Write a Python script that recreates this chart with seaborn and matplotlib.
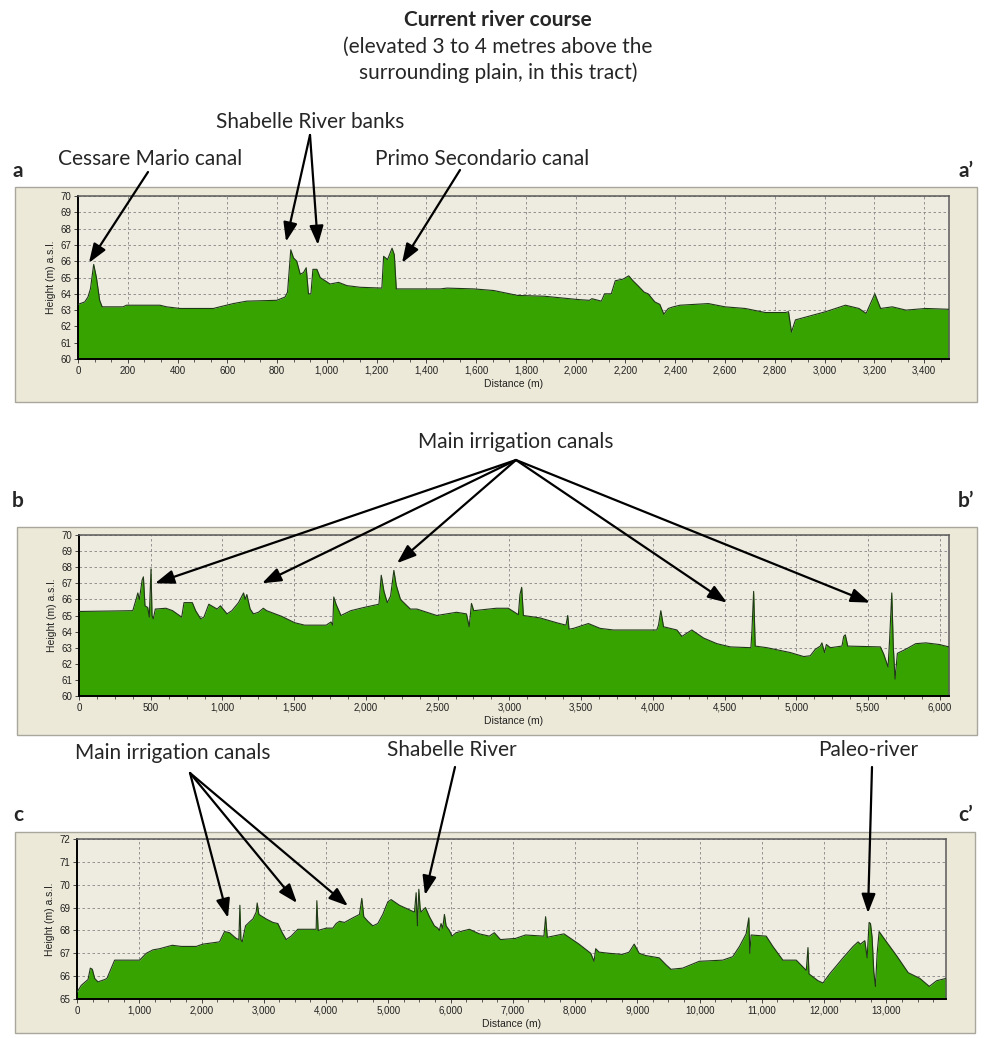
import numpy as np
import pandas as pd
import seaborn as sns
import matplotlib.pyplot as plt
from matplotlib.patches import Rectangle
from matplotlib.ticker import MultipleLocator, AutoMinorLocator, FuncFormatter

# ---- elevation profiles (distance m, height m a.s.l.) ----
dist_a = [0, 27, 40, 50, 63, 74, 87, 97, 181, 195, 329, 356, 410, 544, 570, 624, 678, 799, 832, 842,
          855, 866, 879, 893, 906, 917, 926, 936, 944, 960, 973, 993, 1013, 1047, 1081, 1134, 1221, 1228,
          1244, 1262, 1271, 1279, 1456, 1483, 1591, 1671, 1766, 1874, 2008, 2055, 2065, 2103, 2116, 2143,
          2159, 2190, 2213, 2230, 2250, 2275, 2291, 2318, 2338, 2354, 2372, 2392, 2419, 2533, 2600, 2681,
          2762, 2842, 2855, 2867, 2883, 3004, 3084, 3138, 3167, 3202, 3225, 3272, 3327, 3407, 3500]
elev_a = [63.35, 63.5, 63.8, 64.3, 65.8, 65.0, 63.6, 63.2, 63.2, 63.3, 63.3, 63.2, 63.1, 63.1, 63.2, 63.4,
          63.55, 63.6, 63.8, 64.1, 66.7, 66.2, 66.0, 65.2, 65.3, 65.6, 64.0, 64.0, 65.5, 65.5, 65.0, 64.8,
          64.6, 64.7, 64.5, 64.4, 64.35, 66.3, 66.1, 66.8, 66.4, 64.3, 64.3, 64.35, 64.3, 64.2, 63.9, 63.85,
          63.65, 63.6, 63.7, 63.55, 64.0, 64.0, 64.8, 64.9, 65.1, 64.8, 64.5, 64.1, 64.0, 63.5, 63.35, 62.75,
          63.1, 63.2, 63.3, 63.4, 63.2, 63.1, 62.85, 62.85, 62.9, 61.65, 62.4, 62.9, 63.3, 63.1, 62.8, 64.0,
          63.1, 63.2, 63.0, 63.1, 63.05]

dist_b = [0, 375, 398, 410, 421, 440, 449, 460, 479, 490, 502, 509, 518, 532, 606, 652, 716, 732, 790, 813,
          848, 871, 905, 963, 986, 1032, 1066, 1112, 1147, 1158, 1170, 1193, 1216, 1251, 1285, 1308, 1412,
          1504, 1573, 1723, 1757, 1769, 1776, 1792, 1826, 1895, 1987, 2091, 2107, 2126, 2149, 2172, 2195,
          2211, 2241, 2310, 2356, 2494, 2632, 2701, 2720, 2736, 2752, 2909, 2993, 3063, 3074, 3086, 3098,
          3214, 3330, 3395, 3407, 3416, 3447, 3551, 3633, 3726, 4028, 4040, 4056, 4075, 4168, 4203, 4272,
          4354, 4447, 4540, 4684, 4691, 4703, 4714, 4796, 4958, 5052, 5098, 5133, 5168, 5179, 5191, 5198,
          5210, 5238, 5319, 5331, 5342, 5359, 5587, 5610, 5640, 5651, 5666, 5677, 5689, 5705, 5763, 5833,
          5903, 5996, 6065]
elev_b = [65.25, 65.3, 66.0, 66.4, 66.0, 67.2, 67.4, 65.6, 65.5, 64.9, 67.9, 65.0, 64.8, 65.4, 65.45, 65.3,
          64.9, 65.8, 65.8, 65.3, 64.8, 64.9, 65.7, 65.4, 65.6, 65.1, 65.3, 65.8, 66.4, 66.0, 66.3, 65.4,
          65.1, 65.2, 65.45, 65.3, 64.95, 64.55, 64.4, 64.4, 64.6, 64.4, 66.15, 65.7, 65.0, 65.3, 65.5, 65.7,
          67.5, 66.5, 65.8, 66.2, 67.8, 66.9, 66.0, 65.4, 65.4, 65.0, 65.2, 65.1, 64.3, 65.75, 65.3, 65.45,
          65.45, 65.05, 66.3, 66.75, 65.0, 64.85, 64.55, 64.4, 65.0, 64.15, 64.2, 64.5, 64.2, 64.1, 64.1,
          64.4, 65.3, 64.3, 64.1, 63.7, 64.1, 63.6, 63.25, 63.05, 63.0, 64.0, 66.5, 63.1, 63.0, 62.7, 62.45,
          62.5, 62.9, 63.1, 63.3, 62.9, 62.7, 63.2, 63.0, 63.1, 63.7, 63.8, 63.1, 63.05, 62.6, 61.8, 63.5,
          66.4, 63.0, 61.05, 62.65, 62.9, 63.25, 63.3, 63.2, 63.05]

dist_c = [0, 70, 177, 214, 246, 284, 337, 444, 481, 605, 1006, 1113, 1220, 1327, 1530, 1675, 1915, 2022,
          2290, 2370, 2450, 2557, 2600, 2616, 2632, 2654, 2707, 2745, 2782, 2825, 2878, 2894, 2921, 3039,
          3146, 3226, 3296, 3360, 3440, 3547, 3841, 3852, 3873, 4002, 4109, 4162, 4216, 4296, 4430, 4537,
          4574, 4606, 4671, 4751, 4831, 4911, 4992, 5045, 5179, 5420, 5436, 5447, 5468, 5490, 5510, 5526,
          5596, 5660, 5740, 5794, 5820, 5847, 5874, 5901, 5928, 5981, 6024, 6088, 6302, 6462, 6623, 6703,
          6801, 7043, 7204, 7499, 7526, 7553, 7821, 7955, 8063, 8251, 8304, 8331, 8385, 8546, 8761, 8868,
          8949, 9029, 9136, 9351, 9459, 9539, 9727, 9995, 10371, 10532, 10640, 10747, 10790, 10806, 10827,
          11069, 11176, 11337, 11552, 11713, 11740, 11756, 11901, 11981, 12089, 12304, 12465, 12545, 12583,
          12653, 12690, 12722, 12744, 12770, 12797, 12824, 12851, 12883, 13001, 13162, 13350, 13538, 13689,
          13807, 13957]
elev_c = [65.3, 65.6, 65.85, 66.35, 66.3, 65.9, 65.75, 65.85, 65.9, 66.7, 66.7, 67.0, 67.15, 67.2, 67.35,
          67.3, 67.3, 67.4, 67.5, 67.95, 67.9, 67.65, 67.6, 69.1, 67.6, 67.5, 68.2, 68.3, 68.4, 68.5, 68.8,
          69.2, 68.7, 68.5, 68.35, 68.3, 67.9, 67.6, 67.75, 68.05, 68.05, 69.3, 68.0, 68.1, 68.1, 68.3, 68.4,
          68.35, 68.55, 68.7, 69.4, 68.6, 68.4, 68.2, 68.3, 68.7, 69.25, 69.35, 69.1, 68.8, 69.3, 69.65, 68.2,
          69.8, 69.0, 68.8, 69.0, 68.6, 68.2, 68.1, 68.0, 68.3, 68.1, 68.7, 68.2, 68.0, 67.75, 67.9, 68.05,
          67.85, 67.75, 67.9, 67.6, 67.65, 67.8, 67.75, 68.6, 67.7, 67.85, 67.6, 67.4, 67.0, 66.65, 67.2,
          67.05, 67.0, 66.95, 67.05, 67.4, 67.0, 66.9, 66.8, 66.5, 66.3, 66.35, 66.65, 66.7, 66.85, 67.3,
          67.85, 68.55, 67.0, 67.8, 67.75, 67.3, 66.7, 66.7, 66.25, 67.25, 66.1, 65.8, 65.7, 66.1, 66.8, 67.3,
          67.5, 67.4, 67.55, 66.8, 68.35, 68.3, 67.7, 66.2, 65.55, 67.0, 67.95, 67.5, 66.9, 66.15, 65.9,
          65.55, 65.8, 65.9]

# axis ranges / ticks
xmax = [3500, 6065, 13957]
ylims = [(60, 70), (60, 70), (65, 72)]
xstep = [200, 500, 1000]
xminor = [3, 4, 4]

# ---- layout (pixels on a 996 x 1038 canvas) ----
W, H = 996, 1038
plot_px = [(78, 196, 949, 359), (79, 535, 949, 696), (77, 839, 946, 999)]   # l, t, r, b
box_px = [(15, 187, 977, 402), (17, 527, 977, 735), (15, 832, 975, 1033)]

sns.set_style("ticks")
plt.rcParams['font.family'] = ['Liberation Sans', 'DejaVu Sans']
LABEL_FONT = ['Lato', 'DejaVu Sans']

GREEN = '#36a300'
EDGE = '#203818'
BEIGE = '#ece9d8'
PLOTBG = '#eeebe0'

fig = plt.figure(figsize=(W / 100, H / 100), dpi=100)


def fx(x):
    return x / W


def fy(y):
    return (H - y) / H


axes = []
profiles = [(dist_a, elev_a), (dist_b, elev_b), (dist_c, elev_c)]
for i, (d, e) in enumerate(profiles):
    x0, y0, x1, y1 = box_px[i]
    fig.patches.append(Rectangle((fx(x0), fy(y1)), (x1 - x0) / W, (y1 - y0) / H,
                                 transform=fig.transFigure, fc=BEIGE, ec='#a9a79c', lw=1.0, zorder=-5))
    l, t, r, b = plot_px[i]
    ax = fig.add_axes([fx(l), fy(b), (r - l) / W, (b - t) / H])
    ax.set_zorder(2)
    ax.set_facecolor(PLOTBG)
    df = pd.DataFrame({'Distance (m)': d, 'Height': e})
    ax.fill_between(df['Distance (m)'], df['Height'], ylims[i][0], color=GREEN, lw=0, zorder=2)
    sns.lineplot(data=df, x='Distance (m)', y='Height', ax=ax, color=EDGE, lw=0.8,
                 estimator=None, zorder=3)
    ax.set_xlim(0, xmax[i])
    ax.set_ylim(*ylims[i])
    ax.xaxis.set_major_locator(MultipleLocator(xstep[i]))
    ax.xaxis.set_minor_locator(AutoMinorLocator(xminor[i]))
    ax.yaxis.set_major_locator(MultipleLocator(1))
    ax.xaxis.set_major_formatter(FuncFormatter(lambda v, p: f'{int(round(v)):,}'))
    ax.grid(True, which='major', ls=(0, (3, 3)), color='#858585', lw=0.6)
    ax.set_axisbelow(True)
    ax.tick_params(axis='both', which='major', labelsize=7, length=3, width=0.7,
                   color='#444444', labelcolor='#222222', pad=2)
    ax.tick_params(axis='x', which='minor', length=2, width=0.6, color='#444444')
    for s in ['left', 'bottom']:
        ax.spines[s].set_color('black')
        ax.spines[s].set_linewidth(1.4)
    for s in ['top', 'right']:
        ax.spines[s].set_color('#5a5a5a')
        ax.spines[s].set_linewidth(1.1)
    ax.set_xlabel('Distance (m)', fontsize=7.5, labelpad=2, color='#222222')
    ax.set_ylabel('Height (m) a.s.l.', fontsize=7.5, labelpad=3, color='#222222')
    axes.append(ax)

ax_a, ax_b, ax_c = axes

# ---- titles and annotation texts ----
TS = 15
fig.text(fx(498), fy(20), 'Current river course', ha='center', va='center',
         fontsize=TS, fontweight='bold', family=LABEL_FONT)
fig.text(fx(498), fy(47), '(elevated 3 to 4 metres above the', ha='center', va='center',
         fontsize=TS, family=LABEL_FONT)
fig.text(fx(498), fy(73), 'surrounding plain, in this tract)', ha='center', va='center',
         fontsize=TS, family=LABEL_FONT)

labels = [
    ('Shabelle River banks', 310, 122),
    ('Cessare Mario canal', 150, 159),
    ('Primo Secondario canal', 482, 159),
    ('Main irrigation canals', 516, 442),
    ('Main irrigation canals', 173, 753),
    ('Shabelle River', 452, 750),
    ('Paleo-river', 868, 750),
]
for s, x, y in labels:
    fig.text(fx(x), fy(y), s, ha='center', va='center', fontsize=TS, family=LABEL_FONT)

for s, x, y in [('a', 18, 171), ('a\u2019', 966, 171), ('b', 18, 501), ('b\u2019', 966, 501),
                ('c', 18, 815), ('c\u2019', 966, 815)]:
    fig.text(fx(x), fy(y), s, ha='center', va='center', fontsize=TS, fontweight='bold',
             family=LABEL_FONT)

# ---- arrows: tail in canvas pixels, head in data coordinates ----
arrows = [
    (ax_a, (148, 172), (44, 65.9)),
    (ax_a, (310, 135), (836, 67.2)),
    (ax_a, (310, 135), (964, 67.0)),
    (ax_a, (460, 170), (1302, 65.9)),
    (ax_b, (516, 460), (530, 67.0)),
    (ax_b, (516, 460), (1276, 67.0)),
    (ax_b, (516, 460), (2217, 68.25)),
    (ax_b, (516, 460), (4517, 65.8)),
    (ax_b, (516, 460), (5514, 65.8)),
    (ax_c, (190, 773), (2425, 68.55)),
    (ax_c, (190, 773), (3533, 69.2)),
    (ax_c, (190, 773), (4352, 69.07)),
    (ax_c, (455, 767), (5589, 69.55)),
    (ax_c, (872, 767), (12704, 68.76)),
]
for ax, (tx, ty), head in arrows:
    ax.annotate('', xy=head, xycoords='data', xytext=(tx, H - ty), textcoords='figure pixels',
                arrowprops=dict(arrowstyle='-|>,head_length=1.15,head_width=0.42', lw=1.6,
                                color='black', shrinkA=0, shrinkB=0),
                annotation_clip=False, zorder=10)

fig.savefig('out.png', dpi=100)
